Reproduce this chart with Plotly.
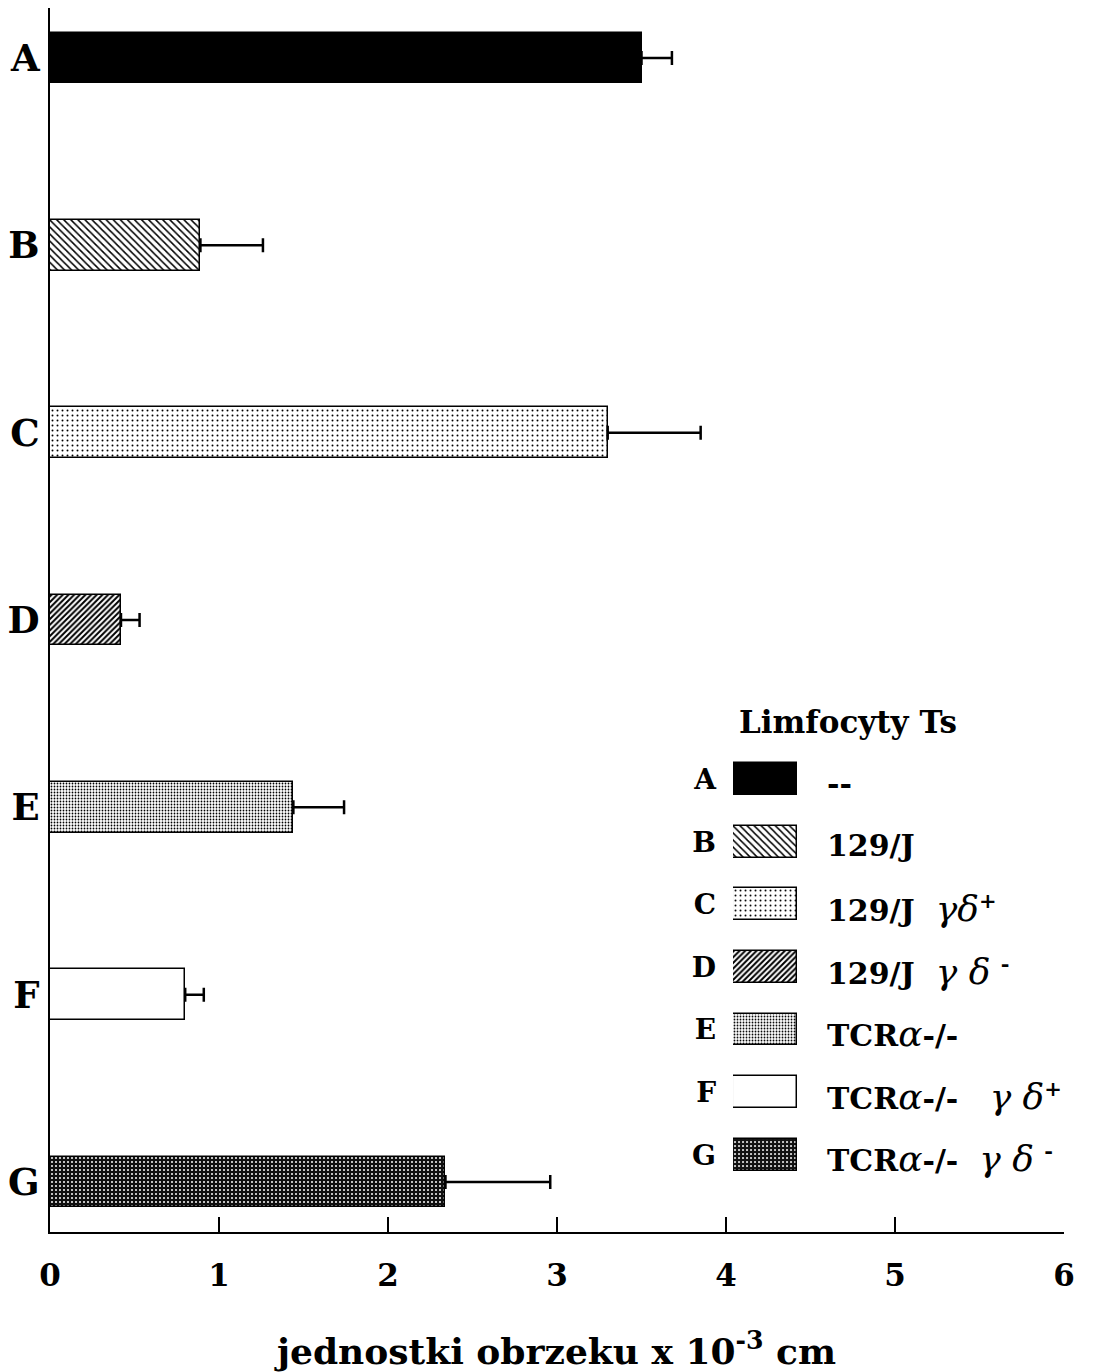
import plotly.graph_objects as go

# Ear swelling (units x 10^-3 cm) after transfer of Ts lymphocytes
groups = ["A", "B", "C", "D", "E", "F", "G"]
swelling = [3.50, 0.89, 3.30, 0.42, 1.44, 0.80, 2.34]
swelling_err = [0.18, 0.37, 0.55, 0.11, 0.30, 0.11, 0.62]

GREEK = "<span style='font-weight:normal;font-family:DejaVu Serif;font-size:36px'><i>{}</i></span>"
legend_labels = [
    "--",
    "129/J",
    "129/J  " + GREEK.format("γδ") + "<sup>+</sup>",
    "129/J  " + GREEK.format("γ δ") + " <sup>-</sup>",
    "TCR" + GREEK.format("α") + "-/-",
    "TCR" + GREEK.format("α") + "-/-   " + GREEK.format("γ δ") + "<sup>+</sup>",
    "TCR" + GREEK.format("α") + "-/-  " + GREEK.format("γ δ") + " <sup>-</sup>",
]
legend_title = "Limfocyty Ts"
swatch_len = [1, 1, 1, 1, 1, 1, 1]

x_ticks = [0, 1, 2, 3, 4, 5, 6]
x_title = "jednostki obrzeku x 10<sup>-3</sup> cm"

# fill pattern of each group
pat_shape = ["", "\\", ".", "/", ".", "", "."]
pat_size = [8, 5, 5, 4, 3, 8, 4]
pat_solid = [0.3, 0.3, 0.12, 0.5, 0.28, 0.3, 0.2]
pat_fg = ["black", "black", "black", "black", "black", "black", "white"]
pat_bg = ["black", "white", "white", "white", "white", "white", "#111111"]

FONT = "DejaVu Serif"

fig = go.Figure()

for i, g in enumerate(groups):
    marker = dict(
        color=pat_bg[i],
        line=dict(color="black", width=1.5),
        pattern=dict(shape=pat_shape[i], size=pat_size[i], solidity=pat_solid[i],
                     fgcolor=pat_fg[i], bgcolor=pat_bg[i], fillmode="replace"),
    )
    fig.add_trace(go.Bar(
        x=[swelling[i]], y=[g], orientation="h", width=0.272, marker=marker,
        error_x=dict(type="data", array=[swelling_err[i]], arrayminus=[0],
                     symmetric=False, color="black", thickness=2.5, width=7),
        showlegend=False,
    ))
    # legend swatch on the small inset axis
    fig.add_trace(go.Bar(
        x=[swatch_len[i]], y=[g], orientation="h", width=0.51,
        xaxis="x2", yaxis="y2", marker=marker,
        showlegend=False, hoverinfo="skip",
    ))

for g, lab in zip(groups, legend_labels):
    fig.add_annotation(text=lab, xref="paper", yref="y2", x=0.7643, y=g,
                       xanchor="left", yanchor="middle", yshift=-4, showarrow=False,
                       font=dict(family=FONT, size=30, weight="bold", color="black"))

fig.add_annotation(text=legend_title, xref="paper", yref="paper", x=0.787, y=0.4167,
                   xanchor="center", yanchor="middle", showarrow=False,
                   font=dict(family=FONT, size=31, weight="bold", color="black"))

fig.add_annotation(text=x_title, xref="paper", yref="paper", x=0.4985, y=-0.095,
                   xanchor="center", yanchor="middle", showarrow=False,
                   font=dict(family=FONT, size=36, weight="bold", color="black"))

fig.update_layout(
    width=1113, height=1372,
    margin=dict(l=50, r=49, t=8, b=140),
    paper_bgcolor="white", plot_bgcolor="white",
    barmode="overlay", bargap=0,
    xaxis=dict(range=[0, 6], tickvals=x_ticks, ticks="inside", ticklen=15, tickwidth=2,
               tickcolor="black", showline=True, linecolor="black", linewidth=2,
               showgrid=False, zeroline=False, ticklabelstandoff=15,
               tickfont=dict(family=FONT, size=31, weight="bold", color="black")),
    yaxis=dict(categoryorder="array", categoryarray=groups, range=[6.267, -0.267],
               showline=True, linecolor="black", linewidth=2, showgrid=False,
               zeroline=False, ticks="", ticklabelstandoff=1,
               tickfont=dict(family=FONT, size=37, weight="bold", color="black")),
    xaxis2=dict(domain=[0.6736, 0.7367], range=[0, 1], anchor="y2", visible=False,
                fixedrange=True),
    yaxis2=dict(domain=[0.0376, 0.3954], anchor="x2", categoryorder="array",
                categoryarray=groups, range=[6.5, -0.5], showline=False,
                showgrid=False, zeroline=False, ticks="", ticklabelstandoff=16,
                tickfont=dict(family=FONT, size=28, weight="bold", color="black")),
)

fig.write_html("out.html")
